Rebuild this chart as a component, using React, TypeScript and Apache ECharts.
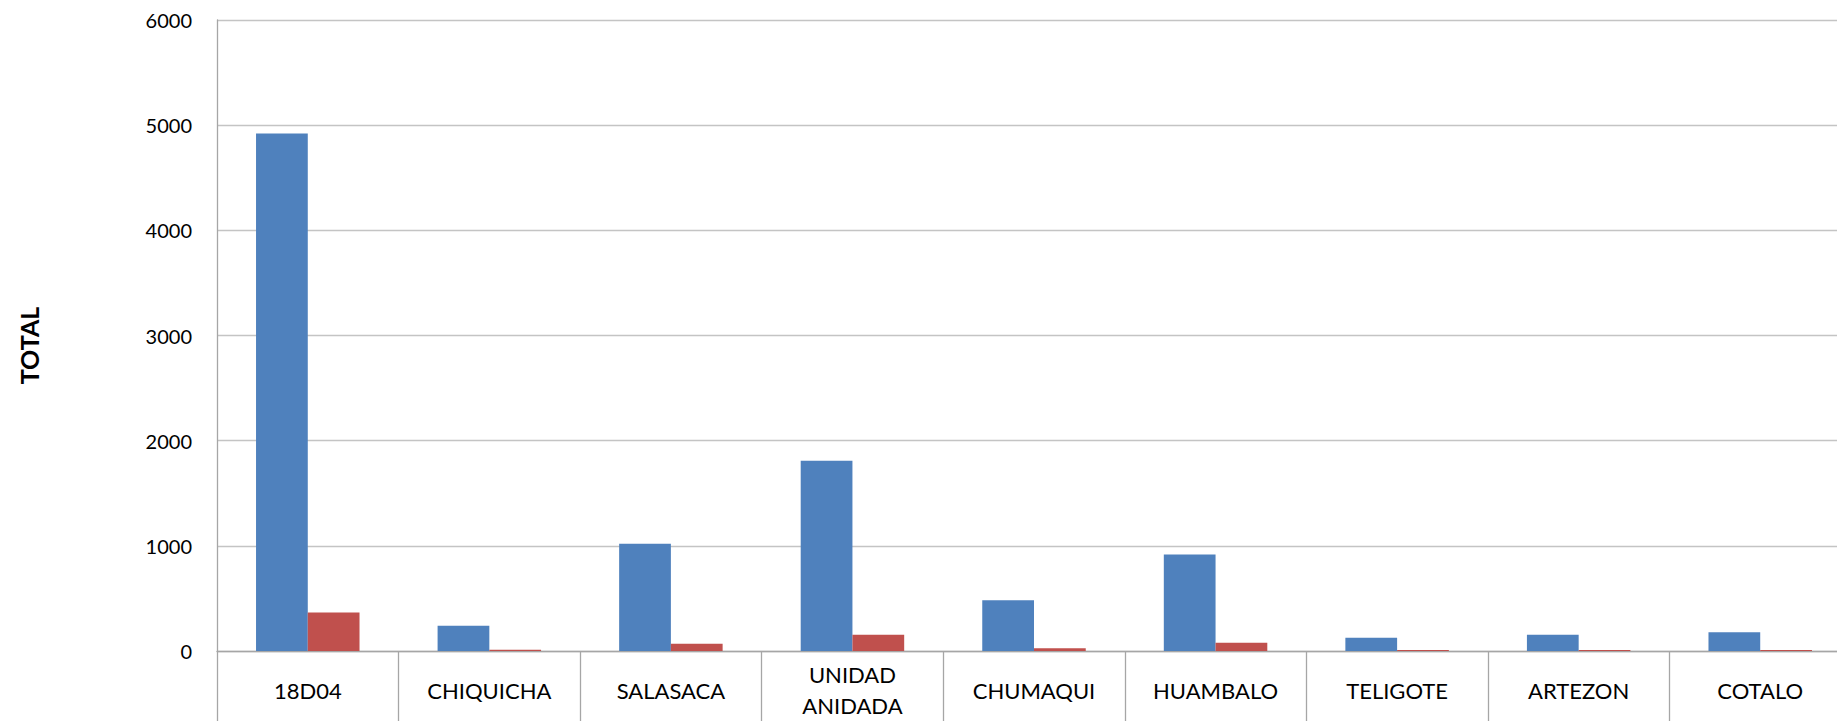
import React, { useEffect, useRef } from "react";
import * as echarts from "echarts";

const categories = [
  "18D04",
  "CHIQUICHA",
  "SALASACA",
  "UNIDAD\nANIDADA",
  "CHUMAQUI",
  "HUAMBALO",
  "TELIGOTE",
  "ARTEZON",
  "COTALO",
];
const blueValues = [4920, 241, 1019, 1810, 483, 918, 125, 154, 179];
const redValues = [367, 13, 69, 154, 25, 78, 10, 10, 10];
const yTicks = { min: 0, max: 6000, interval: 1000 };
const yAxisName = "TOTAL";

const FONT = "Lato, 'Open Sans', 'Liberation Sans', sans-serif";

export default function App() {
  const ref = useRef<HTMLDivElement>(null);
  useEffect(() => {
    if (!ref.current) return;
    const chart = echarts.init(ref.current, null, { renderer: "svg" });
    chart.setOption({
      animation: false,
      backgroundColor: "#ffffff",
      grid: { left: 217, top: 20, bottom: 64, right: 49, containLabel: false },
      xAxis: {
        type: "category",
        data: categories,
        axisLine: { show: true, lineStyle: { color: "#a6a6a6", width: 1.3 } },
        axisTick: { show: true, length: 70, lineStyle: { color: "#a6a6a6", width: 1.3 } },
        axisLabel: {
          interval: 0,
          color: "#000000",
          fontFamily: FONT,
          fontSize: 22,
          margin: 39,
          verticalAlign: "middle",
          lineHeight: 31,
        },
      },
      yAxis: {
        type: "value",
        min: yTicks.min,
        max: yTicks.max,
        interval: yTicks.interval,
        name: yAxisName,
        nameLocation: "middle",
        nameGap: 176,
        nameRotate: 90,
        nameTextStyle: {
          color: "#000000",
          fontFamily: FONT,
          fontSize: 25,
          fontWeight: "bold",
          padding: [0, 20, 0, 0],
        },
        axisLine: { show: true, lineStyle: { color: "#a6a6a6", width: 1.3 } },
        axisTick: { show: false },
        splitLine: { show: true, lineStyle: { color: "#c4c4c4", width: 1.3 } },
        axisLabel: {
          color: "#000000",
          fontFamily: FONT,
          fontSize: 20,
          margin: 25,
          formatter: (v: number) => String(v),
        },
      },
      series: [
        {
          type: "bar",
          data: blueValues,
          barGap: "0%",
          barCategoryGap: "43%",
          itemStyle: { color: "#4F81BD" },
        },
        {
          type: "bar",
          data: redValues,
          barGap: "0%",
          barCategoryGap: "43%",
          itemStyle: { color: "#C0504D" },
        },
      ],
    });
    return () => chart.dispose();
  }, []);
  return (
    <div
      style={{
        position: "fixed",
        left: 0,
        top: 0,
        width: 1837,
        height: 721,
        overflow: "hidden",
        background: "#ffffff",
      }}
    >
      <div ref={ref} style={{ width: 1900, height: 721 }} />
    </div>
  );
}
